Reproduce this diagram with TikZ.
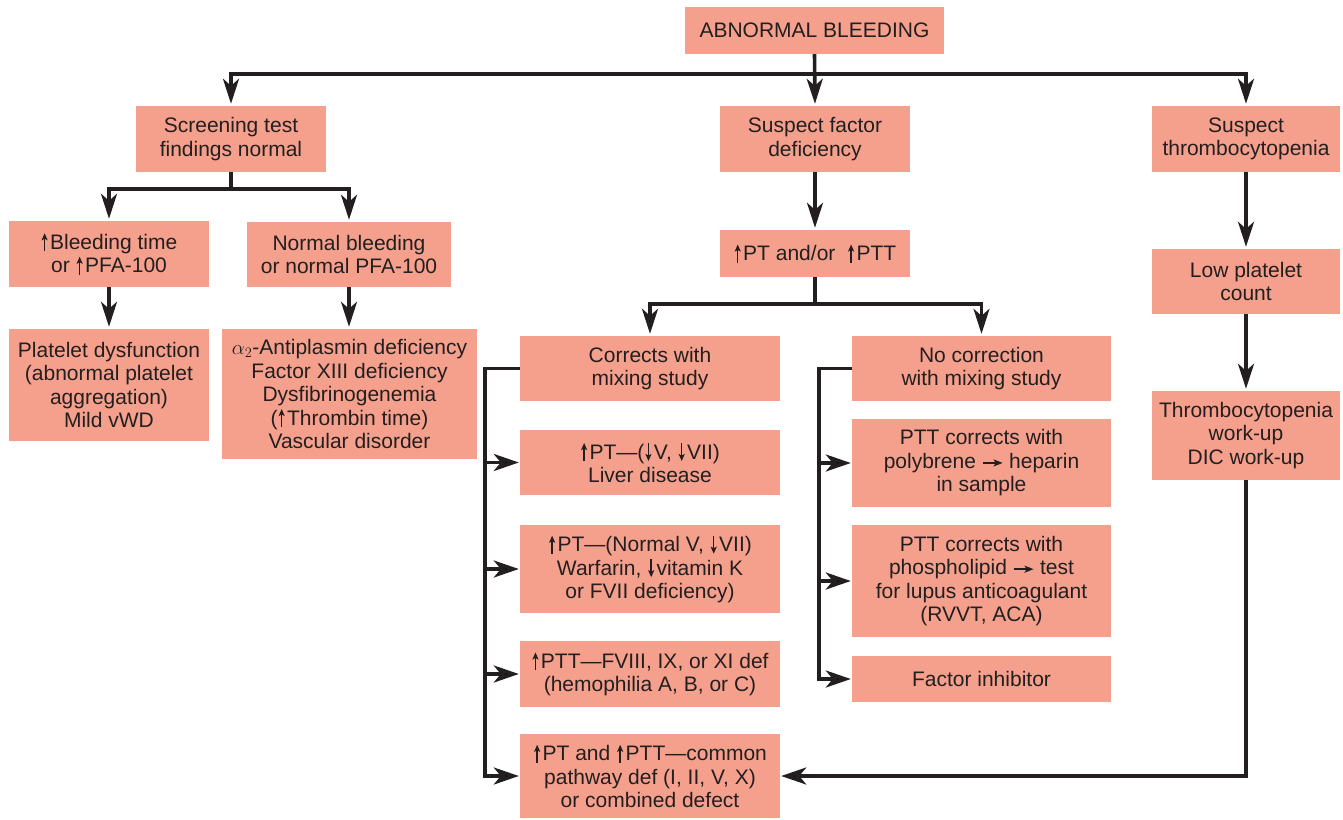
\documentclass[tikz,border=0pt]{standalone}
\usepackage{fontspec}
\setmainfont{Liberation Sans}
\usetikzlibrary{arrows.meta}
\definecolor{boxfill}{HTML}{F4A08C}
\definecolor{ink}{HTML}{231F20}
\newcommand{\myup}{\kern1pt\tikz[baseline=0pt]\draw[ink,line width=1.5pt,-{Stealth[length=7pt,width=6pt,inset=1.5pt]}] (0pt,-2pt) -- (0pt,16pt);\kern2.5pt}
\newcommand{\mydn}{\kern1pt\tikz[baseline=0pt]\draw[ink,line width=1.5pt,-{Stealth[length=7pt,width=6pt,inset=1.5pt]}] (0pt,16pt) -- (0pt,-2pt);\kern2.5pt}
\newcommand{\myright}{\tikz[baseline=0pt]\draw[ink,line width=1.5pt,-{Stealth[length=9pt,width=7pt,inset=2pt]}] (0pt,5.5pt) -- (20pt,5.5pt);}
\begin{document}
\begin{tikzpicture}[x=1pt,y=-1pt,
  bx/.style={fill=boxfill, inner sep=0pt, align=center, text=ink,
    font=\fontsize{21}{23.5}\selectfont},
  conn/.style={draw=ink, line width=3.6pt},
  arr/.style={conn, shorten >=2pt, -{Stealth[length=25pt,width=16pt,inset=7pt]}},
  sarr/.style={conn, shorten >=1pt, -{Stealth[length=25pt,width=17pt,inset=7pt]}}
]
\useasboundingbox (0,0) rectangle (1343,819);

% boxes
\node[bx, minimum width=259pt, minimum height=47pt] (ab) at (814.5,30.5) {ABNORMAL BLEEDING};
\node[bx, minimum width=190pt, minimum height=66pt] (scr) at (231,139) {Screening test\\findings normal};
\node[bx, minimum width=190pt, minimum height=66pt] (sfd) at (815,139) {Suspect factor\\deficiency};
\node[bx, minimum width=188pt, minimum height=66pt] (sth) at (1246,139) {Suspect\\thrombocytopenia};
\node[bx, minimum width=200pt, minimum height=66pt] (blt) at (109,254) {\myup Bleeding time\\or \myup PFA-100};
\node[bx, minimum width=204pt, minimum height=65pt] (nbl) at (349,254.5) {Normal bleeding\\or normal PFA-100};
\node[bx, minimum width=200pt, minimum height=112pt] (pd) at (109,385) {Platelet dysfunction\\(abnormal platelet\\aggregation)\\Mild vWD};
\node[bx, minimum width=255pt, minimum height=130pt] (ap) at (349.5,394) {$\alpha_2$-Antiplasmin deficiency\\Factor XIII deficiency\\Dysfibrinogenemia\\(\myup Thrombin time)\\Vascular disorder};
\node[bx, minimum width=190pt, minimum height=47pt] (pt) at (815,253.5) {\myup PT and/or \ \myup PTT};
\node[bx, minimum width=260pt, minimum height=65pt] (cor) at (650,368.5) {Corrects with\\mixing study};
\node[bx, minimum width=260pt, minimum height=65pt] (liv) at (650,462.5) {\myup PT—(\mydn V, \mydn VII)\\Liver disease};
\node[bx, minimum width=260pt, minimum height=88pt] (war) at (650,569) {\myup PT—(Normal V, \mydn VII)\\Warfarin, \mydn vitamin K\\or FVII deficiency)};
\node[bx, minimum width=260pt, minimum height=66pt] (ptt) at (650,674) {\myup PTT—FVIII, IX, or XI def\\(hemophilia A, B, or C)};
\node[bx, minimum width=260pt, minimum height=84pt] (com) at (650,776) {\myup PT and \myup PTT—common\\pathway def (I, II, V, X)\\or combined defect};
\node[bx, minimum width=259pt, minimum height=65pt] (noc) at (981.5,368.5) {No correction\\with mixing study};
\node[bx, minimum width=259pt, minimum height=88pt] (pol) at (981.5,463) {PTT corrects with\\polybrene \myright{} heparin\\in sample};
\node[bx, minimum width=259pt, minimum height=112pt] (pho) at (981.5,581) {PTT corrects with\\phospholipid \myright{} test\\for lupus anticoagulant\\(RVVT, ACA)};
\node[bx, minimum width=259pt, minimum height=46pt] (fi) at (981.5,679) {Factor inhibitor};
\node[bx, minimum width=188pt, minimum height=65pt] (low) at (1246,281.5) {Low platelet\\count};
\node[bx, minimum width=188pt, minimum height=89pt] (thr) at (1246,435.5) {Thrombocytopenia\\work-up\\DIC work-up};

% junction coordinates
\coordinate (h1) at (0,74);
\coordinate (h2) at (0,189);
\coordinate (h3) at (0,304);
\coordinate (v1) at (485,0);
\coordinate (v2) at (819,0);

% top level
\draw[arr] (ab.south) -- (sfd.north);
\draw[arr] (ab.south |- h1) -| (scr.north);
\draw[arr] (ab.south |- h1) -| (sth.north);

% screening branch
\draw[conn] (scr.south) -- (scr.south |- h2);
\draw[arr] (scr.south |- h2) -| (blt.north);
\draw[arr] (scr.south |- h2) -| (nbl.north);
\draw[arr] (blt.south) -- (pd.north);
\draw[arr] (nbl.south) -- (nbl.south |- ap.north);

% factor branch
\draw[arr] (sfd.south) -- (pt.north);
\draw[conn] (pt.south) -- (pt.south |- h3);
\draw[arr] (pt.south |- h3) -| (cor.north);
\draw[arr] (pt.south |- h3) -| (noc.north);

% corrects with mixing
\draw[sarr] (cor.west) -- (v1 |- cor.west) -- (v1 |- com.west) -- (com.west);
\draw[sarr] (v1 |- liv.west) -- (liv.west);
\draw[sarr] (v1 |- war.west) -- (war.west);
\draw[sarr] (v1 |- ptt.west) -- (ptt.west);

% no correction
\draw[sarr] (noc.west) -- (v2 |- noc.west) -- (v2 |- fi.west) -- (fi.west);
\draw[sarr] (v2 |- pol.west) -- (pol.west);
\draw[sarr] (v2 |- pho.west) -- (pho.west);

% thrombocytopenia
\draw[arr] (sth.south) -- (low.north);
\draw[arr] (low.south) -- (thr.north);
\draw[sarr] (thr.south) -- (thr.south |- com.east) -- (com.east);
\end{tikzpicture}
\end{document}
